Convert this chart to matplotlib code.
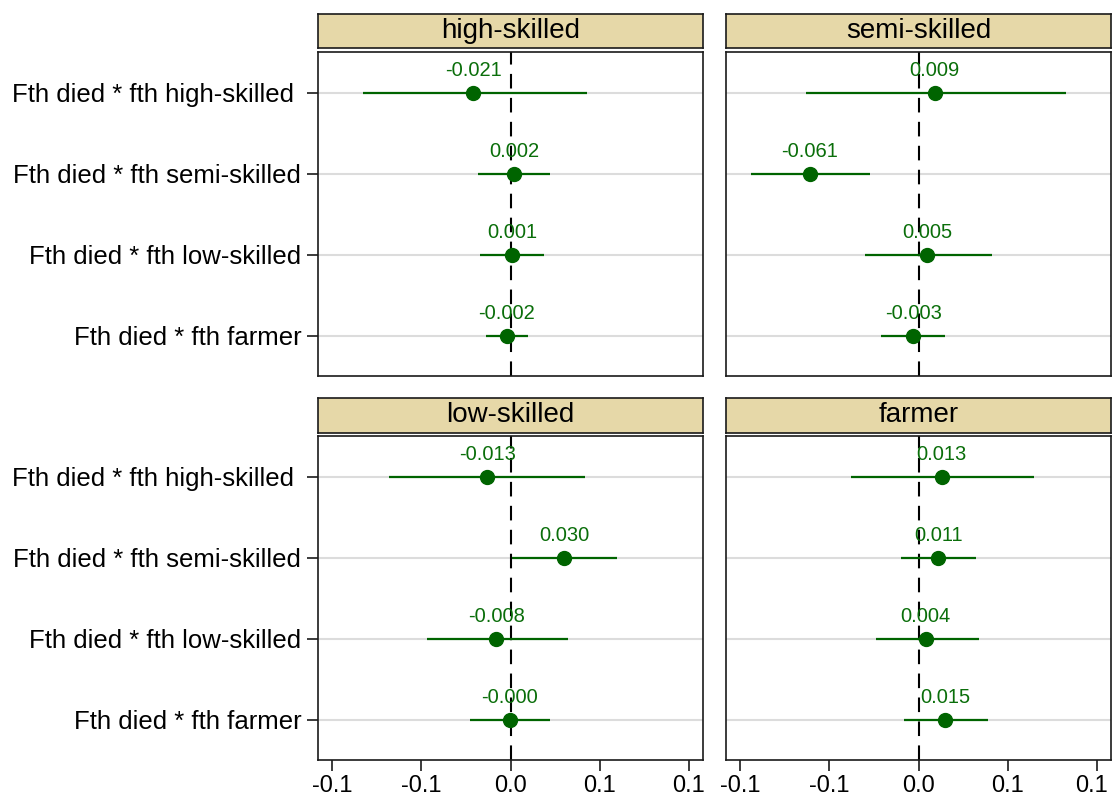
import matplotlib
matplotlib.use("Agg")
import matplotlib.pyplot as plt
from matplotlib.transforms import ScaledTranslation

plt.rcParams['font.family'] = ['Liberation Sans', 'DejaVu Sans']

# Zeilen (oben nach unten)
row_labels = ["Fth died * fth high-skilled ",
              "Fth died * fth semi-skilled",
              "Fth died * fth low-skilled",
              "Fth died * fth farmer"]

panel_titles = ["high-skilled", "semi-skilled", "low-skilled", "farmer"]

# Punktschaetzer je Panel
coef_high = [-0.021, 0.002, 0.001, -0.002]
coef_semi = [0.009, -0.061, 0.005, -0.003]
coef_low = [-0.013, 0.030, -0.008, -0.0004]
coef_farm = [0.013, 0.011, 0.004, 0.015]

# Konfidenzintervalle
lo_high = [-0.083, -0.018, -0.017, -0.014]
hi_high = [0.043, 0.022, 0.019, 0.010]
lo_semi = [-0.063, -0.094, -0.030, -0.021]
hi_semi = [0.083, -0.027, 0.041, 0.015]
lo_low = [-0.068, 0.001, -0.047, -0.023]
hi_low = [0.042, 0.060, 0.032, 0.022]
lo_farm = [-0.038, -0.010, -0.024, -0.008]
hi_farm = [0.065, 0.032, 0.034, 0.039]

x_ticks = [-0.1, -0.05, 0.0, 0.05, 0.1]
x_tick_labels = ["-0.1", "-0.1", "0.0", "0.1", "0.1"]

GREEN = '#006400'
STRIP = '#E6D8A8'
FRAME = '#1a1a1a'

W = 1113
H = 798


def px_box(x0, y0, x1, y1):
    """Pixelrahmen (oben links -> unten rechts) in Figurkoordinaten."""
    return [x0 / W, 1 - y1 / H, (x1 - x0) / W, (y1 - y0) / H]


def draw_panel(fig, box, strip_box, title, coefs, lo, hi, left, bottom):
    ax = fig.add_axes(box)
    sx = fig.add_axes(strip_box)

    # Titelstreifen
    sx.set_facecolor(STRIP)
    sx.set_xticks([])
    sx.set_yticks([])
    for s in sx.spines.values():
        s.set_color(FRAME)
        s.set_linewidth(1.2)
    sx.text(0.5, 0.5, title, ha='center', va='center', fontsize=20,
            transform=sx.transAxes)

    ys = list(range(1, len(row_labels) + 1))

    # Gitterlinien und Nulllinie
    for y in ys:
        ax.axhline(y, color='#dcdcdc', linewidth=1.5, zorder=1)
    ax.axvline(0, color='black', linewidth=1.5, linestyle=(0, (7, 4.5)), zorder=2)

    ax.hlines(ys, lo, hi, color=GREEN, linewidth=1.6, zorder=3)
    ax.plot(coefs, ys, 'o', color=GREEN, markersize=10, zorder=4)
    for c, y in zip(coefs, ys):
        ax.annotate("%.3f" % c, (c, y), xytext=(0, 16), textcoords='offset points',
                    ha='center', va='center', fontsize=14.5, color='#0a6e0a', zorder=5)

    ax.set_xlim(-0.108, 0.108)
    ax.set_ylim(4.5, 0.5)
    for s in ax.spines.values():
        s.set_color(FRAME)
        s.set_linewidth(1.2)

    ax.set_yticks(ys)
    if left:
        ax.set_yticklabels(row_labels, fontsize=18.5)
        ax.tick_params(axis='y', length=8, width=1.2, pad=4, color=FRAME)
    else:
        ax.tick_params(axis='y', length=0, labelleft=False)

    ax.set_xticks(x_ticks)
    if bottom:
        ax.set_xticklabels(x_tick_labels, fontsize=17)
        ax.tick_params(axis='x', length=8, width=1.2, pad=3, color=FRAME)
        if not left:
            # letzte Beschriftung etwas nach links, damit sie nicht abgeschnitten wird
            last = ax.get_xticklabels()[-1]
            last.set_transform(last.get_transform() +
                               ScaledTranslation(-5 / 100, 0, fig.dpi_scale_trans))
    else:
        ax.tick_params(axis='x', length=0, labelbottom=False)
    return ax


def main():
    fig = plt.figure(figsize=(W / 100, H / 100), dpi=100)
    fig.patch.set_facecolor('white')

    draw_panel(fig, px_box(318, 52, 703, 376), px_box(318, 14, 703, 48),
               panel_titles[0], coef_high, lo_high, hi_high, True, False)
    draw_panel(fig, px_box(726, 52, 1111, 376), px_box(726, 14, 1111, 48),
               panel_titles[1], coef_semi, lo_semi, hi_semi, False, False)
    draw_panel(fig, px_box(318, 436, 703, 760), px_box(318, 398, 703, 433),
               panel_titles[2], coef_low, lo_low, hi_low, True, True)
    draw_panel(fig, px_box(726, 436, 1111, 760), px_box(726, 398, 1111, 433),
               panel_titles[3], coef_farm, lo_farm, hi_farm, False, True)

    fig.savefig("out.png", dpi=100)


if __name__ == "__main__":
    main()
